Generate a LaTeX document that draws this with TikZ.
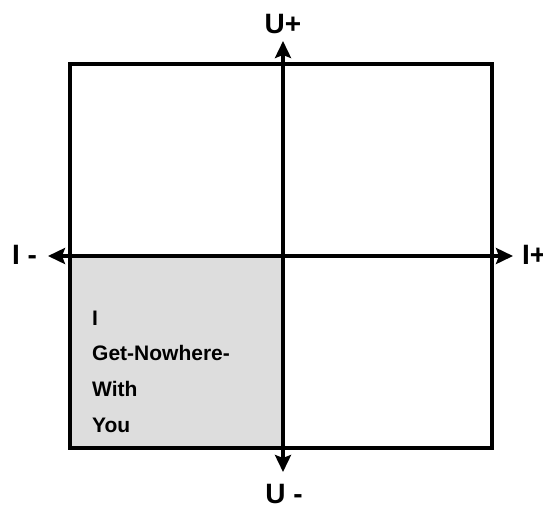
\documentclass[tikz,border=0pt]{standalone}
\usepackage{fontspec}
\setmainfont{Liberation Sans}
\usetikzlibrary{arrows.meta}
\begin{document}
\begin{tikzpicture}[x=1pt,y=-1pt,
  frame/.style={line width=3.5pt},
  tipstyle/.style={},
  axis/.style={line width=3.5pt,{Stealth[length=17pt,width=16pt,inset=3pt]}-{Stealth[length=17pt,width=16pt,inset=3pt]}},
  axlabel/.style={font=\fontsize{28}{28}\selectfont\bfseries,inner sep=0pt},
  quadtext/.style={font=\fontsize{21}{21}\selectfont\bfseries,anchor=base west,inner sep=0pt}]
\useasboundingbox (0,0) rectangle (543,504);
\fill[fill={rgb,255:red,221;green,221;blue,221}] (70,256) rectangle (283,448);
\draw[frame] (70,64) rectangle (492,448);
\coordinate (left) at (48,256);
\coordinate (right) at (513,256);
\coordinate (top) at (283,41);
\coordinate (bot) at (283,472);
\draw[axis] (left) -- (right);
\draw[axis] (top) -- (bot);
\node[axlabel,anchor=base] (up) at (283,33) {U+};
\node[axlabel,anchor=base] (um) at (284,503) {U -};
\node[axlabel,anchor=base west] (im) at (12,264) {I -};
\node[axlabel,anchor=base west] (ip) at (522,264) {I+};
\node[quadtext] (q1) at (92,325) {I};
\node[quadtext] (q2) at (92,360) {Get-Nowhere-};
\node[quadtext] (q3) at (92,396) {With};
\node[quadtext] (q4) at (92,432) {You};
\end{tikzpicture}
\end{document}
